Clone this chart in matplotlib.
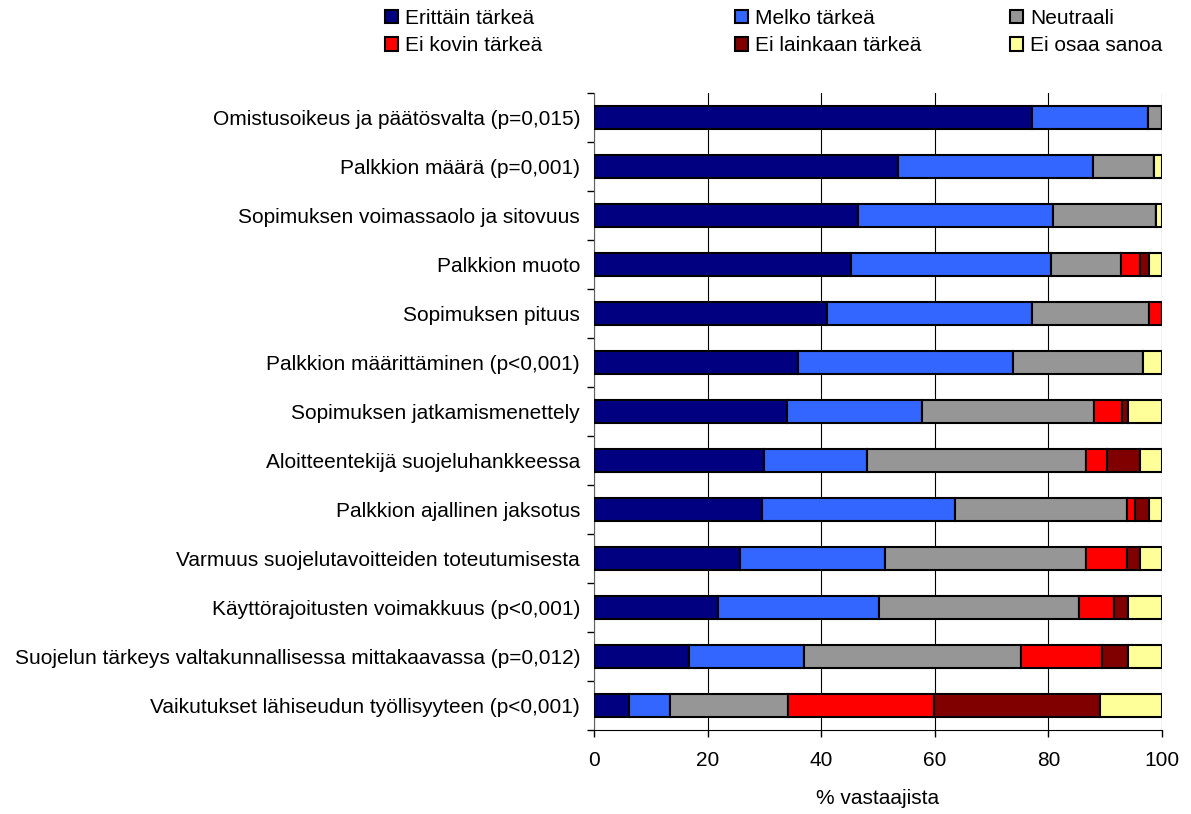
import matplotlib
matplotlib.use("Agg")
import matplotlib.pyplot as plt
import numpy as np

plt.rcParams['font.family'] = ['Liberation Sans', 'DejaVu Sans']

kategoriat = [
    "Omistusoikeus ja päätösvalta (p=0,015)",
    "Palkkion määrä (p=0,001)",
    "Sopimuksen voimassaolo ja sitovuus",
    "Palkkion muoto",
    "Sopimuksen pituus",
    "Palkkion määrittäminen (p<0,001)",
    "Sopimuksen jatkamismenettely",
    "Aloitteentekijä suojeluhankkeessa",
    "Palkkion ajallinen jaksotus",
    "Varmuus suojelutavoitteiden toteutumisesta",
    "Käyttörajoitusten voimakkuus (p<0,001)",
    "Suojelun tärkeys valtakunnallisessa mittakaavassa (p=0,012)",
    "Vaikutukset lähiseudun työllisyyteen (p<0,001)",
]

erittain = [77.2, 53.6, 46.5, 45.3, 41.0, 35.9, 33.9, 30.0, 29.5, 25.7, 21.9, 16.8, 6.2]
melko = [20.3, 34.2, 34.3, 35.2, 36.2, 37.9, 23.8, 18.1, 34.0, 25.5, 28.3, 20.1, 7.1]
neutraali = [2.5, 10.8, 18.2, 12.3, 20.5, 22.8, 30.4, 38.6, 30.3, 35.5, 35.1, 38.2, 20.8]
ei_kovin = [0, 0, 0, 3.4, 2.3, 0, 4.9, 3.7, 1.5, 7.1, 6.2, 14.3, 25.7]
ei_lainkaan = [0, 0, 0, 1.5, 0, 0, 1.0, 5.8, 2.4, 2.4, 2.5, 4.7, 29.3]
ei_osaa = [0, 1.4, 1.0, 2.3, 0, 3.4, 6.0, 3.8, 2.3, 3.8, 6.0, 5.9, 10.9]

sarjat = [
    ("Erittäin tärkeä", erittain, "#000080"),
    ("Melko tärkeä", melko, "#3366ff"),
    ("Neutraali", neutraali, "#969696"),
    ("Ei kovin tärkeä", ei_kovin, "#ff0000"),
    ("Ei lainkaan tärkeä", ei_lainkaan, "#800000"),
    ("Ei osaa sanoa", ei_osaa, "#ffff99"),
]

W, H = 1191, 814
fig = plt.figure(figsize=(W / 100, H / 100), dpi=100)
ax = fig.add_axes([594 / W, 1 - 730 / H, 568 / W, 637 / H])

y = np.arange(len(kategoriat))
vasen = np.zeros(len(kategoriat))
palkit = []
for nimi, arvot, vari in sarjat:
    arvot = np.array(arvot)
    b = ax.barh(y, arvot, left=vasen, height=0.45, color=vari, edgecolor="black",
                linewidth=1.5, label=nimi, zorder=3)
    palkit.append(b)
    vasen += arvot

ax.set_xlim(0, 100)
ax.set_ylim(len(kategoriat) - 0.5, -0.5)
ax.set_xticks([0, 20, 40, 60, 80, 100])
ax.set_yticks(y)
ax.set_yticklabels(kategoriat, fontsize=15)
ax.tick_params(axis='y', length=0, pad=10)
ax.set_yticks(np.arange(-0.5, len(kategoriat), 1), minor=True)
ax.tick_params(axis='y', which='minor', length=5, width=1, direction='out')
ax.tick_params(axis='x', labelsize=15, length=5, width=1, pad=10)
ax.xaxis.grid(True, color="black", linewidth=0.8, zorder=0)
for s in ["top", "right"]:
    ax.spines[s].set_visible(False)
ax.spines["left"].set_color("#606060")
ax.spines["bottom"].set_color("black")

ax.set_xlabel("% vastaajista", fontsize=15, labelpad=14)

# legenda riveittain, kolme saraketta omilla paikoillaan
sarakkeet_x = [385, 735, 1010]
for i, x in enumerate(sarakkeet_x):
    hh = [palkit[i], palkit[i + 3]]
    ll = [sarjat[i][0], sarjat[i + 3][0]]
    fig.legend(hh, ll, loc="upper left", bbox_to_anchor=(x / W, 1 - 9 / H),
               frameon=False, fontsize=15, handlelength=0.6, handleheight=0.6,
               handletextpad=0.35, labelspacing=0.4, borderpad=0,
               borderaxespad=0)

fig.savefig("out.png", dpi=100)
